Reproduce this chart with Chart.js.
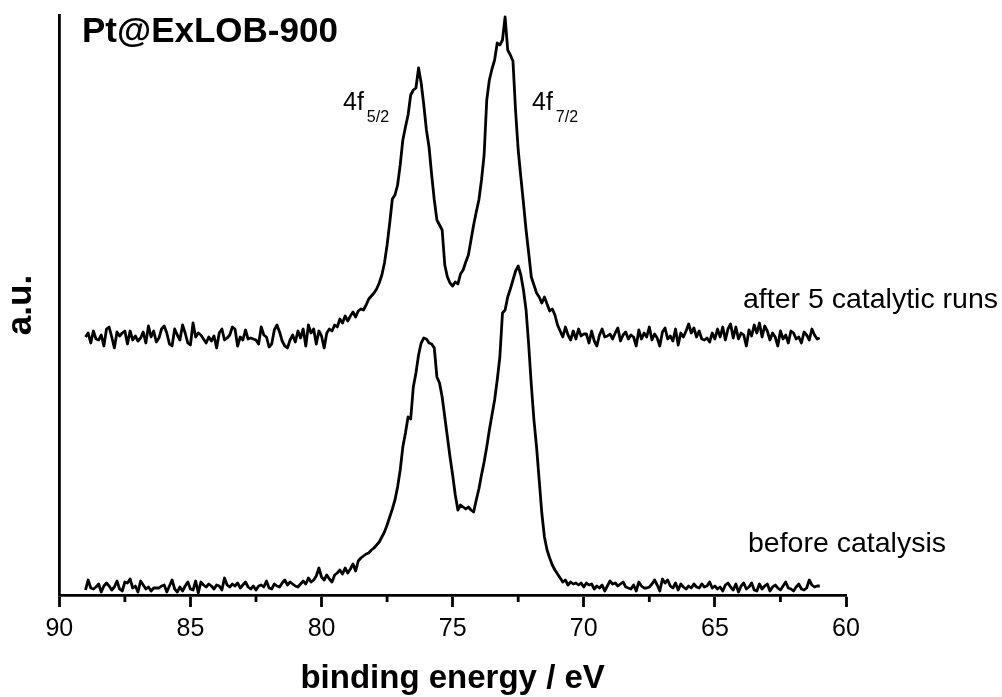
<!DOCTYPE html>
<html>
<head>
<meta charset="utf-8">
<script src="https://cdn.jsdelivr.net/npm/chart.js@4/dist/chart.umd.min.js"></script>
<style>
  body { margin: 0; background: #fff; }
  #wrap { width: 1002px; height: 697px; }
</style>
</head>
<body>
<div id="wrap"><canvas id="xps" width="1002" height="697"></canvas></div>
<script>
// ---------- DATA ----------
// binding energy grid (eV), 0.1 eV steps
const energies = [
  89.0, 88.9, 88.8, 88.7, 88.6, 88.5, 88.4, 88.3, 88.2, 88.1,
  88.0, 87.9, 87.8, 87.7, 87.6, 87.5, 87.4, 87.3, 87.2, 87.1,
  87.0, 86.9, 86.8, 86.7, 86.6, 86.5, 86.4, 86.3, 86.2, 86.1,
  86.0, 85.9, 85.8, 85.7, 85.6, 85.5, 85.4, 85.3, 85.2, 85.1,
  85.0, 84.9, 84.8, 84.7, 84.6, 84.5, 84.4, 84.3, 84.2, 84.1,
  84.0, 83.9, 83.8, 83.7, 83.6, 83.5, 83.4, 83.3, 83.2, 83.1,
  83.0, 82.9, 82.8, 82.7, 82.6, 82.5, 82.4, 82.3, 82.2, 82.1,
  82.0, 81.9, 81.8, 81.7, 81.6, 81.5, 81.4, 81.3, 81.2, 81.1,
  81.0, 80.9, 80.8, 80.7, 80.6, 80.5, 80.4, 80.3, 80.2, 80.1,
  80.0, 79.9, 79.8, 79.7, 79.6, 79.5, 79.4, 79.3, 79.2, 79.1,
  79.0, 78.9, 78.8, 78.7, 78.6, 78.5, 78.4, 78.3, 78.2, 78.1,
  78.0, 77.9, 77.8, 77.7, 77.6, 77.5, 77.4, 77.3, 77.2, 77.1,
  77.0, 76.9, 76.8, 76.7, 76.6, 76.5, 76.4, 76.3, 76.2, 76.1,
  76.0, 75.9, 75.8, 75.7, 75.6, 75.5, 75.4, 75.3, 75.2, 75.1,
  75.0, 74.9, 74.8, 74.7, 74.6, 74.5, 74.4, 74.3, 74.2, 74.1,
  74.0, 73.9, 73.8, 73.7, 73.6, 73.5, 73.4, 73.3, 73.2, 73.1,
  73.0, 72.9, 72.8, 72.7, 72.6, 72.5, 72.4, 72.3, 72.2, 72.1,
  72.0, 71.9, 71.8, 71.7, 71.6, 71.5, 71.4, 71.3, 71.2, 71.1,
  71.0, 70.9, 70.8, 70.7, 70.6, 70.5, 70.4, 70.3, 70.2, 70.1,
  70.0, 69.9, 69.8, 69.7, 69.6, 69.5, 69.4, 69.3, 69.2, 69.1,
  69.0, 68.9, 68.8, 68.7, 68.6, 68.5, 68.4, 68.3, 68.2, 68.1,
  68.0, 67.9, 67.8, 67.7, 67.6, 67.5, 67.4, 67.3, 67.2, 67.1,
  67.0, 66.9, 66.8, 66.7, 66.6, 66.5, 66.4, 66.3, 66.2, 66.1,
  66.0, 65.9, 65.8, 65.7, 65.6, 65.5, 65.4, 65.3, 65.2, 65.1,
  65.0, 64.9, 64.8, 64.7, 64.6, 64.5, 64.4, 64.3, 64.2, 64.1,
  64.0, 63.9, 63.8, 63.7, 63.6, 63.5, 63.4, 63.3, 63.2, 63.1,
  63.0, 62.9, 62.8, 62.7, 62.6, 62.5, 62.4, 62.3, 62.2, 62.1,
  62.0, 61.9, 61.8, 61.7, 61.6, 61.5, 61.4, 61.3, 61.2, 61.1,
  61.0
];

// intensity (a.u.), fresh catalyst
const beforeCatalysis = [
  5, 15, 7, 6, 8, 11, 3, 9, 12, 9,
  5, 8, 14, 6, 4, 13, 12, 16, 7, 9,
  3, 14, 10, 6, 8, 4, 7, 7, 7, 9,
  10, 3, 9, 15, 6, 3, 8, 4, 9, 13,
  6, 5, 14, 2, 13, 10, 8, 11, 9, 6,
  10, 9, 5, 17, 10, 8, 11, 9, 12, 7,
  10, 13, 8, 6, 9, 5, 9, 10, 8, 14,
  7, 6, 11, 9, 8, 12, 15, 10, 13, 11,
  9, 8, 11, 14, 11, 17, 13, 15, 19, 27,
  18, 15, 20, 16, 13, 20, 22, 25, 21, 27,
  22, 26, 31, 24, 34, 37, 39, 41, 42, 45,
  47, 50, 53, 58, 63, 70, 78, 86, 95, 108,
  125, 148, 162, 178, 176, 208, 222, 240, 252, 257,
  256, 252, 251, 247, 218, 212, 198, 178, 158, 138,
  120, 100, 85, 90, 88, 86, 88, 85, 83, 95,
  106, 120, 133, 148, 165, 180, 195, 215, 238, 282,
  285, 298, 306, 315, 324, 329, 320, 305, 285, 250,
  210, 175, 148, 115, 82, 58, 45, 37, 30, 25,
  21, 17, 13, 15, 10, 13, 11, 12, 10, 12,
  8, 12, 10, 11, 6, 9, 7, 10, 4, 9,
  14, 11, 12, 9, 11, 13, 8, 7, 6, 10,
  4, 13, 9, 7, 7, 8, 11, 15, 10, 4,
  16, 12, 15, 9, 7, 12, 5, 11, 8, 6,
  9, 7, 11, 8, 7, 11, 8, 9, 13, 7,
  9, 6, 8, 4, 10, 12, 8, 5, 11, 3,
  9, 12, 6, 8, 12, 5, 4, 11, 6, 9,
  11, 4, 8, 10, 7, 5, 9, 13, 7, 6,
  4, 8, 11, 6, 5, 7, 15, 10, 8, 9,
  9
];

// intensity (a.u.), after 5 runs (offset trace)
const afterRuns = [
  258, 262, 252, 264, 256, 255, 260, 249, 266, 268,
  258, 247, 263, 259, 262, 264, 251, 264, 255, 259,
  254, 257, 263, 252, 269, 258, 264, 253, 257, 266,
  269, 262, 251, 249, 266, 260, 255, 270, 262, 252,
  250, 272, 258, 262, 260, 256, 252, 258, 254, 259,
  247, 262, 266, 255, 257, 260, 268, 266, 249, 258,
  255, 265, 256, 257, 256, 255, 251, 268, 260, 258,
  248, 251, 265, 270, 263, 254, 249, 247, 255, 260,
  253, 264, 257, 266, 249, 270, 262, 266, 251, 264,
  259, 247, 262, 266, 264, 270, 268, 276, 272, 279,
  274, 279, 283, 278, 284, 286, 285, 290, 296, 299,
  302, 306, 312, 320, 332, 350, 372, 396, 400, 410,
  430, 455, 468, 480, 500, 505, 507, 527, 512, 490,
  465, 448, 420, 395, 375, 370, 365, 330, 318, 312,
  309, 313, 311, 321, 325, 333, 340, 355, 370, 383,
  395, 415, 440, 495, 515, 526, 535, 552, 550, 555,
  578, 545, 540, 534, 484, 445, 418, 392, 365, 342,
  318, 310, 302, 298, 292, 298, 291, 284, 286, 280,
  270, 264, 258, 268, 260, 255, 264, 256, 266, 259,
  261, 261, 252, 264, 254, 249, 260, 266, 258, 259,
  261, 256, 262, 267, 254, 260, 263, 256, 260, 258,
  249, 265, 256, 262, 258, 268, 255, 261, 257, 249,
  263, 267, 256, 259, 254, 266, 250, 262, 258, 264,
  271, 262, 267, 258, 264, 256, 255, 257, 253, 262,
  256, 266, 258, 268, 255, 266, 271, 257, 268, 256,
  262, 260, 249, 265, 259, 270, 262, 272, 258, 269,
  264, 255, 262, 258, 249, 264, 256, 260, 252, 264,
  262, 256, 258, 252, 263, 260, 255, 266, 260, 256,
  257
];

const minorTicks = [87.5, 82.5, 77.5, 72.5, 67.5, 62.5];

// ---------- TEXT ----------
const FONT = "'Liberation Sans', Arial, Helvetica, sans-serif";

const notes = [
  { text: "Pt@ExLOB-900", x: 82, y: 42, size: 35, bold: true },
  { text: "after 5 catalytic runs", x: 743, y: 308, size: 28.5 },
  { text: "before catalysis", x: 748, y: 552, size: 28.5 }
];
const peakNotes = [
  { main: "4f", sub: "5/2", x: 343, y: 110 },
  { main: "4f", sub: "7/2", x: 532, y: 110 }
];

const extras = {
  id: "extras",
  afterDraw(chart) {
    const ctx = chart.ctx;
    const xs = chart.scales.x;
    ctx.save();
    // minor ticks
    ctx.strokeStyle = "#000";
    ctx.lineWidth = 2.8;
    minorTicks.forEach(v => {
      const px = xs.getPixelForValue(v);
      ctx.beginPath();
      ctx.moveTo(px, xs.top);
      ctx.lineTo(px, xs.top + 7);
      ctx.stroke();
    });
    // labels
    ctx.fillStyle = "#000";
    ctx.textBaseline = "alphabetic";
    ctx.textAlign = "left";
    notes.forEach(n => {
      ctx.font = (n.bold ? "bold " : "") + n.size + "px " + FONT;
      ctx.fillText(n.text, n.x, n.y);
    });
    peakNotes.forEach(n => {
      ctx.font = "25px " + FONT;
      ctx.fillText(n.main, n.x, n.y);
      const w = ctx.measureText(n.main).width;
      ctx.font = "16px " + FONT;
      ctx.fillText(n.sub, n.x + w + 3, n.y + 12);
    });
    ctx.restore();
  }
};

// ---------- CHART ----------
const lineStyle = {
  borderColor: "#000",
  borderWidth: 2.8,
  pointRadius: 0,
  tension: 0,
  borderJoinStyle: "round",
  fill: false
};

new Chart(document.getElementById("xps"), {
  type: "line",
  data: {
    datasets: [
      { label: "after 5 catalytic runs", data: energies.map((e, i) => ({ x: e, y: afterRuns[i] })), ...lineStyle },
      { label: "before catalysis", data: energies.map((e, i) => ({ x: e, y: beforeCatalysis[i] })), ...lineStyle }
    ]
  },
  options: {
    responsive: false,
    animation: false,
    layout: { padding: { left: 0, top: 15, right: 156, bottom: 0 } },
    plugins: { legend: { display: false }, tooltip: { enabled: false } },
    scales: {
      x: {
        type: "linear",
        min: 60,
        max: 90,
        reverse: true,
        ticks: { stepSize: 5, color: "#000", padding: 7, maxRotation: 0, font: { family: FONT, size: 25 } },
        grid: { drawOnChartArea: false, drawTicks: true, tickLength: 12, tickWidth: 2.8, tickColor: "#000" },
        border: { color: "#000", width: 2.8 },
        title: {
          display: true,
          text: "binding energy / eV",
          color: "#000",
          padding: 0,
          font: { family: FONT, size: 33, weight: "bold", lineHeight: 1.1 }
        },
        afterFit: s => { s.height = 102; }
      },
      y: {
        min: 0,
        max: 580,
        ticks: { display: false },
        grid: { drawOnChartArea: false, drawTicks: false },
        border: { color: "#000", width: 2.8 },
        title: {
          display: true,
          text: "a.u.",
          color: "#000",
          padding: { top: 0, bottom: 0 },
          font: { family: FONT, size: 35, weight: "bold" }
        },
        afterFit: s => { s.width = 59.3; }
      }
    }
  },
  plugins: [extras]
});
</script>
</body>
</html>
